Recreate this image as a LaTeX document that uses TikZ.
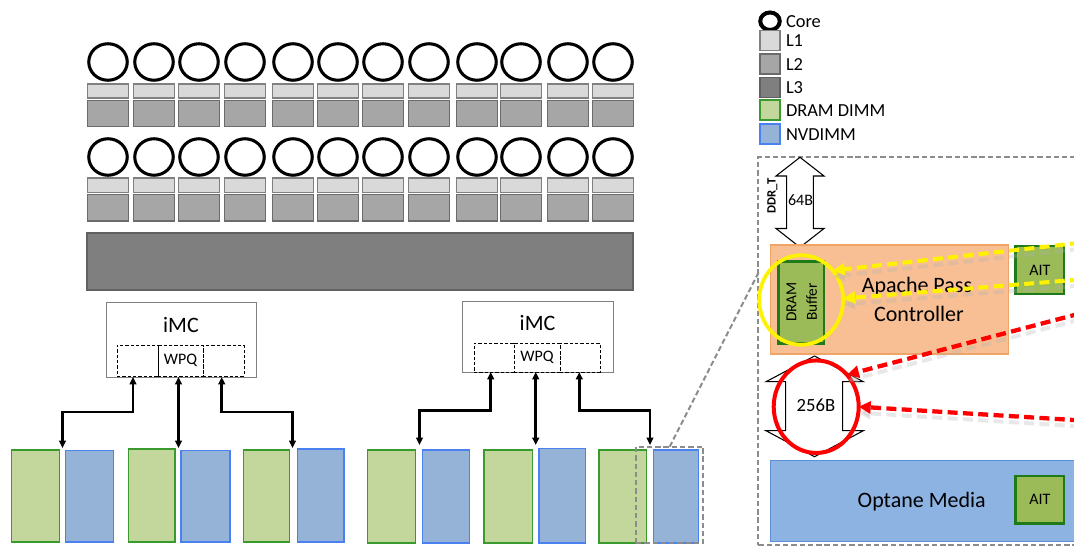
\documentclass[tikz,border=0pt]{standalone}
\usepackage{fontspec}
\setmainfont{Carlito}
\usetikzlibrary{arrows.meta,shapes.geometric,calc}
\definecolor{lonec}{HTML}{D9D9D9}
\definecolor{ltwoc}{HTML}{A6A6A6}
\definecolor{lthreec}{HTML}{7F7F7F}
\definecolor{dimmg}{HTML}{C3D69B}
\definecolor{dimmgb}{HTML}{3A9A2E}
\definecolor{dimmb}{HTML}{95B3D7}
\definecolor{dimmbb}{HTML}{4A80F0}
\definecolor{apcfill}{HTML}{F8BF94}
\definecolor{apcdraw}{HTML}{EFA468}
\definecolor{olivef}{HTML}{9BBB59}
\definecolor{olived}{HTML}{1F7A1A}
\definecolor{optf}{HTML}{8DB3E2}
\definecolor{optd}{HTML}{5B8ED6}
\newcommand{\rbox}[7]{\node[#2, minimum width={((#5)-(#3))*0.75pt}, minimum height={((#6)-(#4))*0.75pt}] (#1) at ({((#3)+(#5))/2},{((#4)+(#6))/2}) {#7};}
\begin{document}
\begin{tikzpicture}[x=0.75pt,y=-0.75pt,
  every node/.style={inner sep=0pt, outer sep=0pt},
  corec/.style={ellipse, draw=black, fill=white, line width=2.3pt, minimum width=38.5*0.75pt, minimum height=36.5*0.75pt},
  lone/.style={rectangle, draw=black!50, fill=lonec, line width=1pt},
  ltwo/.style={rectangle, draw=black!58, fill=ltwoc, line width=1pt},
  lthree/.style={rectangle, draw=black!62, fill=lthreec, line width=1pt},
  gdimm/.style={rectangle, draw=dimmgb, fill=dimmg, line width=1pt},
  bdimm/.style={rectangle, draw=dimmbb, fill=dimmb, line width=1pt},
  imcbox/.style={rectangle, draw=black!50, fill=white, line width=0.7pt},
  wpqc/.style={rectangle, draw=black, dashed, dash pattern=on 2.5pt off 1.5pt, line width=0.6pt, font=\fontsize{12pt}{14pt}\selectfont},
  zoomdash/.style={draw=black!45, line width=1.5pt, dash pattern=on 4pt off 2.2pt},
  apcbox/.style={rectangle, draw=apcdraw, fill=apcfill, line width=1pt},
  olivebox/.style={rectangle, draw=olived, fill=olivef, line width=2.2pt, font=\fontsize{12pt}{14pt}\selectfont},
  optbox/.style={rectangle, draw=optd, fill=optf, line width=1pt},
  link/.style={line width=1.9pt, {Triangle[length=5.5pt,width=5pt]}-{Triangle[length=5.5pt,width=5pt]}},
  yarrow/.style={draw=yellow, line width=3pt, dash pattern=on 7.5pt off 4pt, -{Triangle[length=9pt,width=9pt]}},
  rarrow/.style={draw=red, line width=3.2pt, dash pattern=on 7.5pt off 4pt, -{Triangle[length=9pt,width=9pt]}},
  shadowarrow/.style={draw=black!30, opacity=0.3, line width=3pt, dash pattern=on 7.5pt off 4pt, -{Triangle[length=9pt,width=9pt]}, transform canvas={yshift=-4.5pt}},
  lgtext/.style={anchor=west, font=\fontsize{13.8pt}{16pt}\selectfont},
  bigtext/.style={font=\fontsize{16.5pt}{19pt}\selectfont}
]
\useasboundingbox (0,0) rectangle (1074,546);

% ---- cores and caches ----
\foreach \cx [count=\i] in {108,154,199,245,293,338,383,429,477,521,568,613} {
  \node[corec] (ca\i) at (\cx,62) {};
  \rbox{la\i}{lone}{\cx-20.5}{84}{\cx+20.5}{98}{}
  \rbox{ma\i}{ltwo}{\cx-20.5}{100.5}{\cx+20.5}{126.7}{}
  \node[corec] (cb\i) at (\cx,157) {};
  \rbox{lb\i}{lone}{\cx-20.5}{178}{\cx+20.5}{192.7}{}
  \rbox{mb\i}{ltwo}{\cx-20.5}{194.5}{\cx+20.5}{221}{}
}
\rbox{lthree}{lthree}{87}{233}{633}{290}{}

% ---- iMC 1 ----
\rbox{imc1}{imcbox}{106}{302}{256}{377}{}
\node[bigtext] (imc1t) at (181,325) {iMC};
\rbox{w11}{wpqc}{117}{345}{158}{376}{}
\rbox{w12}{wpqc}{158}{345}{203}{376}{WPQ}
\rbox{w13}{wpqc}{203}{345}{244}{376}{}

% ---- iMC 2 ----
\rbox{imc2}{imcbox}{462}{301}{613}{372}{}
\node[bigtext] (imc2t) at (537.5,323) {iMC};
\rbox{w21}{wpqc}{474}{343}{514}{372}{}
\rbox{w22}{wpqc}{514}{343}{560}{372}{WPQ}
\rbox{w23}{wpqc}{560}{343}{600}{372}{}

% ---- DIMMs ----
\rbox{g1}{gdimm}{11.7}{450}{59.3}{542}{}
\rbox{b1}{bdimm}{65.7}{450.5}{113.3}{542}{}
\rbox{g2}{gdimm}{128.3}{449}{175}{542}{}
\rbox{b2}{bdimm}{181}{450.5}{230}{542}{}
\rbox{g3}{gdimm}{243.3}{450}{289.3}{542}{}
\rbox{b3}{bdimm}{297.7}{449}{344}{542}{}
\rbox{g4}{gdimm}{367.3}{450}{415.7}{543}{}
\rbox{b4}{bdimm}{422.7}{450}{469.3}{543}{}
\rbox{g5}{gdimm}{484}{450}{532.3}{543}{}
\rbox{b5}{bdimm}{539}{448.3}{585.7}{543}{}
\rbox{g6}{gdimm}{599}{450}{646.7}{543}{}
\rbox{b6}{bdimm}{653.3}{450}{698.3}{543}{}

% ---- channel arrows ----
\coordinate (t1) at (62.5,448); \coordinate (k1) at (133,412);
\coordinate (t2) at (178.5,448);
\coordinate (t3) at (292.5,448); \coordinate (k3) at (221.7,412);
\draw[link] (t1) |- (k1) -- (k1 |- imc1.south);
\draw[link] (t2 |- imc1.south) -- (t2);
\draw[link] (t3) |- (k3) -- (k3 |- imc1.south);
\coordinate (t4) at (419.5,445); \coordinate (k4) at (490.7,410.7);
\coordinate (t5) at (535.7,445);
\coordinate (t6) at (650,445); \coordinate (k6) at (579.3,410.7);
\draw[link] (t4) |- (k4) -- (k4 |- imc2.south);
\draw[link] (t5 |- imc2.south) -- (t5);
\draw[link] (t6) |- (k6) -- (k6 |- imc2.south);

% ---- zoom box and panel ----
\rbox{zoombox}{zoomdash}{636}{446.7}{703.3}{543.3}{}
\rbox{panel}{zoomdash}{758.3}{157}{1095}{545}{}
\coordinate (pz) at (758.3,273);
\draw[zoomdash] (zoombox.north) -- (pz);

% ---- 64B double arrow ----
\draw[fill=white, line width=0.8pt] (800,157.3) -- (824,176) -- (813.3,176) -- (813.3,228.5) -- (824,228.5) -- (800,247.3) -- (776,228.5) -- (786.7,228.5) -- (786.7,176) -- (776,176) -- cycle;
\node[font=\fontsize{12pt}{14pt}\selectfont] (b64) at (800.5,200) {64B};
\node[rotate=90, font=\bfseries\fontsize{9.5pt}{11pt}\selectfont] (ddrt) at (772.5,196) {DDR\_T};

% ---- Apache Pass controller ----
\rbox{apc}{apcbox}{770.7}{245}{1008.3}{354}{}
\rbox{dbuf}{olivebox}{778.3}{261.7}{824}{343.3}{}
\node[rotate=90, font=\fontsize{11.5pt}{13pt}\selectfont] (dbt1) at (791.5,302) {DRAM};
\node[rotate=90, font=\fontsize{11.5pt}{13pt}\selectfont] (dbt2) at (811.5,302) {Buffer};
\node[bigtext] (apt1) at (917,287) {Apache Pass};
\node[bigtext] (apt2) at (919,313.5) {Controller};
\rbox{ait1}{olivebox}{1015.7}{246}{1064}{294}{AIT}
\node[ellipse, draw=yellow, line width=2.8pt, minimum width=84*0.75pt, minimum height=89.5*0.75pt] (ye) at (801.2,300) {};

% ---- 256B double arrow ----
\draw[fill=white, line width=0.8pt] (814.5,356) -- (863.3,381.7) -- (842.7,381.7) -- (842.7,430.7) -- (863.3,430.7) -- (814.5,456.7) -- (766,430.7) -- (785.7,430.7) -- (785.7,381.7) -- (766,381.7) -- cycle;
\node[font=\fontsize{14pt}{16pt}\selectfont] (b256) at (816,405) {256B};
\node[ellipse, draw=red, line width=3pt, minimum width=85*0.75pt, minimum height=92.5*0.75pt] (rc) at (816.2,406.7) {};

% ---- Optane media ----
\rbox{opt}{optbox}{770.7}{460.7}{1085}{541.7}{}
\node[font=\fontsize{16.5pt}{19pt}\selectfont] (optt) at (921.7,501.7) {Optane Media};
\rbox{ait2}{olivebox}{1015.7}{476}{1064}{523.3}{AIT}

% ---- dashed arrows (with shadows) ----
\coordinate (ys1) at (1080,242.8);
\coordinate (ys2) at (1080,279.5);
\coordinate (rs1) at (1080,313.5);
\coordinate (rs2) at (1080,420.4);
\draw[shadowarrow] (ys1) -- (ye.43);
\draw[shadowarrow] (ys2) -- (ye.2);
\draw[shadowarrow] (rs1) -- (rc.46);
\draw[shadowarrow] (rs2) -- (rc.0);
\draw[yarrow] (ys1) -- (ye.43);
\draw[yarrow] (ys2) -- (ye.2);
\draw[rarrow] (rs1) -- (rc.46);
\draw[rarrow] (rs2) -- (rc.0);

% ---- legend ----
\node[ellipse, draw=black, line width=3pt, minimum width=19.5*0.75pt, minimum height=17.5*0.75pt] (lgcore) at (770,21.2) {};
\node[lgtext] (lgcoret) at (786,21.5) {Core};
\rbox{lg1}{lone}{760}{30.5}{780}{50.5}{}
\node[lgtext] (lg1t) at (786,41) {L1};
\rbox{lg2}{ltwo}{760}{54}{780}{74}{}
\node[lgtext] (lg2t) at (786,64.5) {L2};
\rbox{lg3}{lthree}{760}{77.5}{780}{97.5}{}
\node[lgtext] (lg3t) at (786,88) {L3};
\rbox{lg4}{gdimm}{760}{100}{780}{120}{}
\node[lgtext] (lg4t) at (786,111) {DRAM DIMM};
\rbox{lg5}{bdimm}{760}{124}{780}{144}{}
\node[lgtext] (lg5t) at (786,134.5) {NVDIMM};
\end{tikzpicture}
\end{document}
